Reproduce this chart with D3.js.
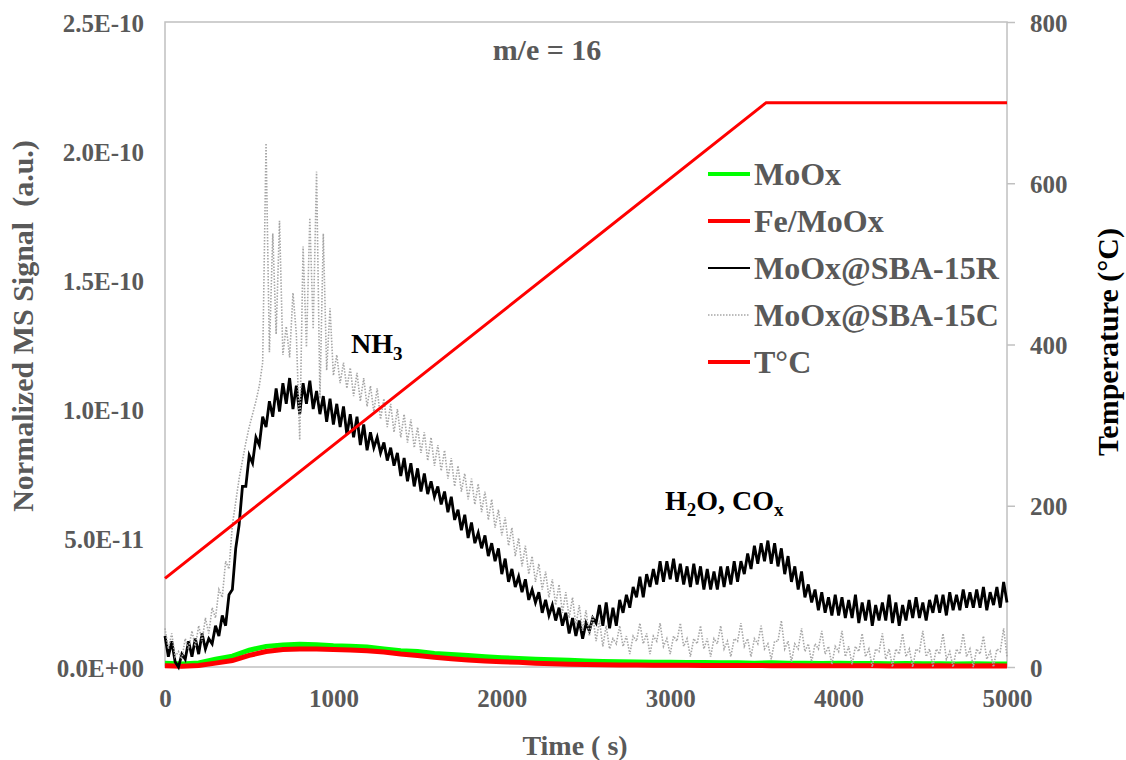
<!DOCTYPE html>
<html><head><meta charset="utf-8">
<script src="https://cdn.jsdelivr.net/npm/d3@7"></script>
<style>
body{margin:0;background:#fff}
svg{display:block}
text{font-family:"Liberation Serif","Times New Roman",serif;font-weight:bold}
</style>
</head><body><svg id="c" width="1126" height="760"></svg>
<script>
// ---------------- DATA ----------------
const signalUnit = 1e-11;               // series values below are in units of 1E-11
const fastStep = 20;                    // sampling step (s) for SBA-15 series
const slowStep = 100;                   // sampling step (s) for bulk series
const xTicks = [0, 1000, 2000, 3000, 4000, 5000];
const yLeftTicks = [0, 5e-11, 1e-10, 1.5e-10, 2e-10, 2.5e-10];
const yLeftLabels = ["0.0E+00", "5.0E-11", "1.0E-10", "1.5E-10", "2.0E-10", "2.5E-10"];
const yRightTicks = [0, 200, 400, 600, 800];

const sba15R = [
 1.2,0.4,1.0,0.2,0.0,0.5,0.3,1.0,0.4,1.1,
 0.5,1.3,0.7,1.1,0.9,1.6,1.2,2.0,1.6,2.8,
 3.0,4.6,5.5,7.0,7.0,8.2,7.9,8.9,8.6,9.7,
 9.3,10.3,9.7,10.8,9.9,11.0,10.2,11.2,10.0,10.9,
 9.8,11.0,10.2,11.1,10.0,10.7,9.8,10.5,9.5,10.4,
 9.4,10.2,9.3,10.1,9.0,9.8,8.9,9.7,8.6,9.4,
 8.4,9.1,8.5,8.9,8.3,8.7,8.0,8.5,7.8,8.3,
 7.4,8.1,7.2,7.9,7.0,7.7,6.8,7.5,6.7,7.2,
 6.6,7.0,6.3,6.8,6.0,6.6,5.7,6.1,5.3,5.9,
 5.0,5.6,4.8,5.2,4.6,5.1,4.3,4.8,4.1,4.6,
 3.6,4.2,3.3,3.8,3.1,3.5,2.9,3.4,2.6,3.0,
 2.5,2.9,2.1,2.6,2.0,2.4,1.8,2.3,1.6,2.1,
 1.3,1.9,1.2,1.8,1.1,1.7,1.4,1.9,1.7,2.4,
 1.6,2.5,1.5,2.3,1.6,2.6,2.1,2.8,2.3,3.1,
 2.7,3.5,2.7,3.6,3.1,3.8,3.2,4.1,3.3,4.1,
 3.4,4.2,3.3,4.0,3.2,3.9,3.1,4.0,3.2,3.9,
 3.0,3.8,3.0,3.7,3.0,3.9,3.1,3.9,3.2,4.1,
 3.3,4.1,3.6,4.4,3.8,4.7,4.0,4.8,4.1,4.9,
 4.0,4.8,3.9,4.6,3.6,4.3,3.3,3.9,3.0,3.7,
 2.7,3.2,2.5,3.0,2.2,2.9,2.1,2.7,2.0,2.8,
 2.0,2.7,1.9,2.6,1.9,2.8,1.7,2.5,1.8,2.6,
 1.6,2.4,1.8,2.5,1.8,2.8,1.7,2.5,1.6,2.4,
 1.8,2.6,1.9,2.7,1.9,2.5,1.8,2.6,2.1,2.8,
 2.1,2.8,2.0,2.9,2.2,2.8,2.2,3.0,2.3,2.9,
 2.3,3.0,2.3,3.1,2.2,2.9,2.4,3.1,2.3,3.3,
 2.5
];

const sba15C = [
 1.5,0.7,1.3,0.4,0.6,0.3,1.1,0.7,1.4,0.8,
 1.6,1.0,1.9,1.3,2.3,1.9,3.0,2.7,4.1,3.8,
 5.5,6.4,7.3,8.0,8.7,9.3,9.8,10.3,10.9,11.8,
 20.3,12.2,16.8,12.9,17.3,12.1,13.2,12.0,14.5,12.9,
 8.8,16.3,12.4,17.4,13.1,19.2,10.4,16.8,11.5,13.9,
 11.3,12.1,11.0,11.8,10.8,11.6,10.5,11.4,10.3,11.2,
 10.1,10.9,9.9,10.8,9.6,10.4,9.3,10.2,9.1,10.0,
 8.9,9.8,8.7,9.6,8.5,9.3,8.3,9.1,8.0,8.9,
 7.8,8.6,7.6,8.4,7.3,8.1,7.0,7.8,6.8,7.5,
 6.5,7.3,6.3,7.1,6.0,6.8,5.7,6.5,5.4,6.1,
 5.1,5.8,4.7,5.4,4.3,5.0,3.9,4.7,3.6,4.3,
 3.3,4.0,3.0,3.7,2.7,3.4,2.4,3.2,2.1,2.9,
 1.9,2.7,1.6,2.4,1.4,2.2,1.2,2.0,1.0,1.8,
 0.8,1.6,0.7,1.1,0.9,1.6,0.8,1.2,0.5,1.2,
 1.0,1.7,0.9,1.3,0.5,1.2,1.0,1.7,0.8,1.1,
 0.5,1.2,1.0,1.7,0.8,1.1,0.4,1.1,0.9,1.6,
 0.7,1.1,0.4,1.1,0.9,1.6,0.7,1.0,0.4,1.1,
 1.0,1.7,0.8,1.1,0.4,1.1,0.9,1.6,0.7,0.9,
 0.3,1.0,1.0,1.8,0.7,1.0,0.2,0.9,0.7,1.5,
 0.6,0.9,0.2,0.9,0.7,1.4,0.5,0.8,0.1,0.8,
 0.6,1.4,0.4,0.8,0.1,0.8,0.6,1.3,0.4,0.7,
 0.0,0.7,0.6,1.3,0.3,0.7,0.0,0.7,0.5,1.3,
 0.4,0.7,0.0,0.7,0.6,1.4,0.4,0.7,0.0,0.7,
 0.5,1.3,0.3,0.6,0.0,0.7,0.5,1.3,0.4,0.7,
 0.0,0.7,0.5,1.2,0.3,0.6,0.0,0.7,0.6,1.5,
 0.4
];

const mooxBulk = [
 0.15,0.12,0.16,0.30,0.42,0.65,0.80,0.85,0.88,0.86,
 0.82,0.80,0.78,0.70,0.63,0.60,0.52,0.48,0.45,0.40,
 0.36,0.33,0.30,0.28,0.26,0.23,0.21,0.20,0.19,0.18,
 0.18,0.17,0.17,0.16,0.16,0.15,0.16,0.15,0.15,0.14,
 0.15,0.14,0.14,0.13,0.14,0.13,0.13,0.12,0.13,0.12,0.12
];
const feMoox = [
 0.05,0.03,0.06,0.15,0.25,0.45,0.60,0.68,0.70,0.70,
 0.68,0.66,0.63,0.58,0.50,0.45,0.38,0.32,0.27,0.23,
 0.20,0.18,0.15,0.13,0.11,0.10,0.09,0.08,0.08,0.07,
 0.07,0.07,0.06,0.06,0.06,0.06,0.05,0.06,0.05,0.05,
 0.05,0.05,0.05,0.04,0.05,0.04,0.05,0.04,0.04,0.05,0.04
];

const tempTimes = [0, 3570, 5000];
const tempValues = [110, 700, 700];

const legendNames = ["MoOx", "Fe/MoOx", "MoOx@SBA-15R", "MoOx@SBA-15C", "T\u00B0C"];

// ---------------- CHART ----------------
const svg = d3.select("#c");
const L = 165, R = 1007, T = 22, B = 667;
const gray = "#595959";

const x = d3.scaleLinear().domain([0, 5000]).range([L, R]);
const yL = d3.scaleLinear().domain([0, 2.5e-10]).range([B, T]);
const yR = d3.scaleLinear().domain([0, 800]).range([B, T]);

// frame
svg.append("rect").attr("x", L).attr("y", T).attr("width", R - L).attr("height", B - T)
  .attr("fill", "none").attr("stroke", "#c0c0c0").attr("stroke-width", 1.5);

// left axis
const gL = svg.append("g").attr("transform", `translate(${L},0)`)
  .call(d3.axisLeft(yL).tickValues(yLeftTicks).tickSize(0)
    .tickFormat((d, i) => yLeftLabels[i]));
gL.select(".domain").remove();
gL.selectAll("text").attr("x", -21).attr("dy", "0.36em")
  .attr("fill", gray).style("font-size", "25px");

// bottom axis
const gB = svg.append("g").attr("transform", `translate(0,${B})`)
  .call(d3.axisBottom(x).tickValues(xTicks).tickSize(0).tickFormat(d3.format("d")));
gB.select(".domain").remove();
gB.selectAll("text").attr("y", 40).attr("dy", 0)
  .attr("fill", gray).style("font-size", "25px");

// right axis
const gR = svg.append("g").attr("transform", `translate(${R},0)`)
  .call(d3.axisRight(yR).tickValues(yRightTicks).tickSize(8).tickFormat(d3.format("d")));
gR.select(".domain").remove();
gR.selectAll("line").attr("stroke", "#c0c0c0").attr("stroke-width", 1.5);
gR.selectAll("text").attr("x", 23).attr("dy", "0.36em")
  .attr("fill", gray).style("font-size", "25px");

// series
const fastT = sba15R.map((_, i) => i * fastStep);
const slowT = mooxBulk.map((_, i) => i * slowStep);
const lineL = d3.line().x(d => x(d[0])).y(d => yL(d[1] * signalUnit));

svg.append("path").datum(mooxBulk.map((v, i) => [slowT[i], v]))
  .attr("d", lineL).attr("fill", "none").attr("stroke", "#00ff00").attr("stroke-width", 5);
svg.append("path").datum(feMoox.map((v, i) => [slowT[i], v]))
  .attr("d", lineL).attr("fill", "none").attr("stroke", "#ff0000").attr("stroke-width", 5);
svg.append("path").datum(sba15R.map((v, i) => [fastT[i], v]))
  .attr("d", lineL).attr("fill", "none").attr("stroke", "#000000").attr("stroke-width", 2.8)
  .attr("stroke-linejoin", "miter");
svg.append("path").datum(sba15C.map((v, i) => [fastT[i], v]))
  .attr("d", lineL).attr("fill", "none").attr("stroke", "#a6a6a6").attr("stroke-width", 1.6)
  .attr("stroke-dasharray", "1.5,1.5");
svg.append("path").datum(tempValues.map((v, i) => [tempTimes[i], v]))
  .attr("d", d3.line().x(d => x(d[0])).y(d => yR(d[1])))
  .attr("fill", "none").attr("stroke", "#ff0000").attr("stroke-width", 3);

// axis titles
svg.append("text").attr("transform", "translate(33,326) rotate(-90)")
  .attr("text-anchor", "middle").attr("fill", gray).style("font-size", "30px")
  .attr("xml:space", "preserve").text("Normalized MS Signal  (a.u.)");
svg.append("text").attr("transform", "translate(1118,342) rotate(-90)")
  .attr("text-anchor", "middle").attr("fill", "#000").style("font-size", "30px")
  .text("Temperature (\u00B0C)");
svg.append("text").attr("x", 575).attr("y", 755)
  .attr("text-anchor", "middle").attr("fill", gray).style("font-size", "28px")
  .attr("xml:space", "preserve").text("Time ( s)");

// annotations
svg.append("text").attr("x", 547).attr("y", 60).attr("text-anchor", "middle")
  .attr("fill", gray).style("font-size", "30px").text("m/e = 16");
const nh = svg.append("text").attr("x", 351).attr("y", 353).attr("fill", "#000").style("font-size", "28px");
nh.append("tspan").text("NH");
nh.append("tspan").attr("dy", 7).style("font-size", "19px").text("3");
const h2o = svg.append("text").attr("x", 665).attr("y", 510).attr("fill", "#000").style("font-size", "28px");
h2o.append("tspan").text("H");
h2o.append("tspan").attr("dy", 6).style("font-size", "19px").text("2");
h2o.append("tspan").attr("dy", -6).text("O, CO");
h2o.append("tspan").attr("dy", 6).style("font-size", "19px").text("x");

// legend
const legStyles = [
  {c: "#00ff00", w: 4, d: null},
  {c: "#ff0000", w: 4, d: null},
  {c: "#000000", w: 2, d: null},
  {c: "#a6a6a6", w: 1.5, d: "1.5,1.5"},
  {c: "#ff0000", w: 4, d: null}
];
const leg = svg.append("g");
legendNames.forEach((n, i) => {
  const yy = 174 + i * 47;
  const s = legStyles[i];
  leg.append("line").attr("x1", 708).attr("x2", 750).attr("y1", yy).attr("y2", yy)
    .attr("stroke", s.c).attr("stroke-width", s.w).attr("stroke-dasharray", s.d);
  leg.append("text").attr("x", 754).attr("y", yy + 11).attr("fill", gray)
    .style("font-size", "32px").text(n);
});
</script></body></html>
